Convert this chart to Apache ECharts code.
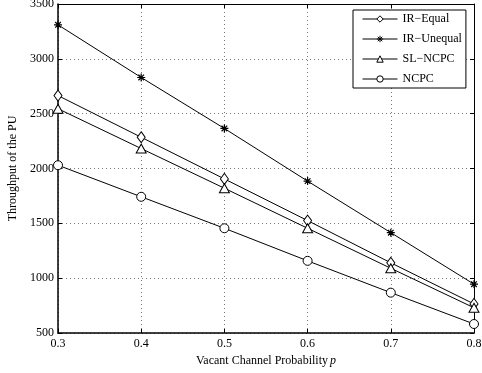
<!DOCTYPE html>
<html><head><meta charset="utf-8">
<script src="https://cdn.jsdelivr.net/npm/echarts@6/dist/echarts.min.js"></script>
<style>html,body{margin:0;padding:0;background:#fff}#c{width:482px;height:373px}</style>
</head><body><div id="c"></div>
<script>
const pValues = [0.3, 0.4, 0.5, 0.6, 0.7, 0.8];
const irEqual = [2665, 2285, 1905, 1525, 1140, 765];
const irUnequal = [3310, 2830, 2365, 1885, 1415, 945];
const slNcpc = [2545, 2182, 1820, 1455, 1090, 730];
const ncpc = [2030, 1742, 1455, 1158, 868, 582];
const seriesNames = ['IR\u2212Equal', 'IR\u2212Unequal', 'SL\u2212NCPC', 'NCPC'];
const yTicks = [500, 1000, 1500, 2000, 2500, 3000, 3500];

const asterisk = 'path://M0,-5L0,5M-5,0L5,0M-3.5,-3.5L3.5,3.5M-3.5,3.5L3.5,-3.5';
const font = 'Liberation Serif';
const chart = echarts.init(document.getElementById('c'));
function mk(name, vals, symbol, size, extra) {
  return Object.assign({
    name: name, type: 'line', data: pValues.map((p, i) => [p, vals[i]]),
    symbol: symbol, symbolSize: size, showSymbol: true,
    lineStyle: {color: '#000', width: 1},
    itemStyle: {color: '#fff', borderColor: '#000', borderWidth: 1},
    emphasis: {disabled: true}, z: 3
  }, extra || {});
}
const gridLine = {show: true, lineStyle: {color: '#777', type: [1, 3], width: 1}};
chart.setOption({
  animation: false,
  textStyle: {fontFamily: font},
  grid: {left: 58, right: 8, top: 4, bottom: 40, containLabel: false, outerBoundsMode: 'none'},
  legend: {
    orient: 'vertical', left: 353, top: 10,
    backgroundColor: '#fff', borderColor: '#000', borderWidth: 1,
    padding: [3, 4, 3, 9], itemWidth: 35, itemHeight: 8, itemGap: 8,
    lineStyle: {width: 1},
    itemStyle: {borderWidth: 1},
    textStyle: {fontFamily: font, fontSize: 12, color: '#000'},
    data: seriesNames
  },
  xAxis: [{
    type: 'value', min: 0.3, max: 0.8, interval: 0.1,
    axisLine: {show: true, lineStyle: {color: '#000', width: 1.5}},
    axisTick: {show: true, inside: true, length: 4, lineStyle: {color: '#000'}},
    axisLabel: {color: '#000', fontSize: 12, fontFamily: font, margin: 5, formatter: v => v.toFixed(1)},
    splitLine: gridLine,
    name: '{a|Vacant Channel Probability}{b|p}', nameLocation: 'middle', nameGap: 21,
    nameTextStyle: {rich: {a: {fontFamily: font, fontSize: 12, color: '#000'}, b: {fontFamily: font, fontSize: 12, fontStyle: 'italic', color: '#000', padding: [0, 0, 0, 2]}}}
  }, {
    type: 'value', position: 'top', min: 0.3, max: 0.8, interval: 0.1,
    axisLine: {show: true, lineStyle: {color: '#000', width: 1}},
    axisTick: {show: true, inside: true, length: 4, lineStyle: {color: '#000'}},
    axisLabel: {show: false}, splitLine: {show: false}
  }],
  yAxis: [{
    type: 'value', min: yTicks[0], max: yTicks[yTicks.length - 1], interval: 500,
    axisLine: {show: true, lineStyle: {color: '#000', width: 1.5}},
    axisTick: {show: true, inside: true, length: 4, lineStyle: {color: '#000'}},
    axisLabel: {color: '#000', fontSize: 12, fontFamily: font, margin: 4, formatter: v => String(v)},
    splitLine: gridLine,
    name: 'Throughput of the PU', nameLocation: 'middle', nameGap: 36,
    nameTextStyle: {fontFamily: font, fontSize: 12, color: '#000'}
  }, {
    type: 'value', position: 'right', min: 500, max: 3500, interval: 500,
    axisLine: {show: true, lineStyle: {color: '#000', width: 1}},
    axisTick: {show: true, inside: true, length: 4, lineStyle: {color: '#000'}},
    axisLabel: {show: false}, splitLine: {show: false}
  }],
  series: [
    mk(seriesNames[0], irEqual, 'diamond', [8, 11]),
    mk(seriesNames[1], irUnequal, asterisk, 8, {itemStyle: {color: '#000', borderColor: '#000', borderWidth: 1.2}}),
    mk(seriesNames[2], slNcpc, 'triangle', [10, 9]),
    mk(seriesNames[3], ncpc, 'circle', 9)
  ]
});
</script></body></html>
